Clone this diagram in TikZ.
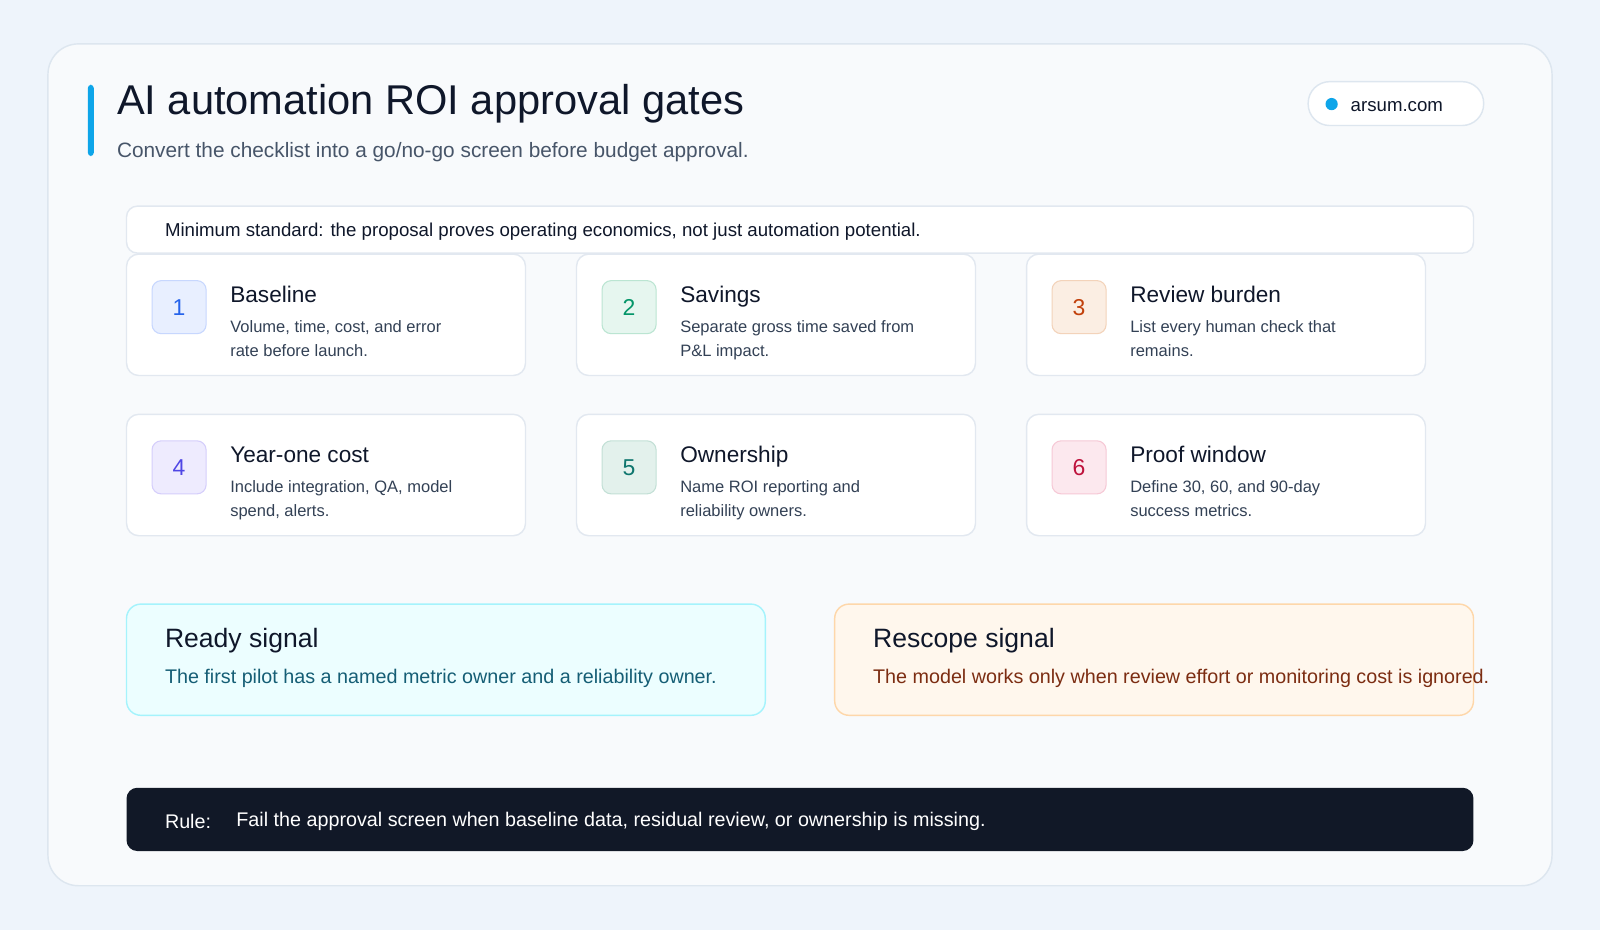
\documentclass[tikz,border=0pt]{standalone}
\usepackage{fontspec}
\setmainfont{Liberation Sans}
\usetikzlibrary{positioning}
\definecolor{pagebg}{HTML}{EEF4FB}
\definecolor{panelbg}{HTML}{F8FAFC}
\definecolor{panelline}{HTML}{DDE6EF}
\definecolor{cardline}{HTML}{E2E8F0}
\definecolor{ink}{HTML}{0F172A}
\definecolor{subink}{HTML}{475569}
\definecolor{bodyink}{HTML}{334155}
\definecolor{accent}{HTML}{0EA5E9}
\definecolor{rulebg}{HTML}{111827}
\definecolor{bfA}{HTML}{E8EFFF}\definecolor{bdA}{HTML}{C7D7FE}\definecolor{btA}{HTML}{2563EB}
\definecolor{bfB}{HTML}{E6F6EF}\definecolor{bdB}{HTML}{BBE5D2}\definecolor{btB}{HTML}{059669}
\definecolor{bfC}{HTML}{FBEEE3}\definecolor{bdC}{HTML}{F3D3BA}\definecolor{btC}{HTML}{C2410C}
\definecolor{bfD}{HTML}{EEEBFE}\definecolor{bdD}{HTML}{D5CEFB}\definecolor{btD}{HTML}{4F46E5}
\definecolor{bfE}{HTML}{E3F1EC}\definecolor{bdE}{HTML}{C3E0D6}\definecolor{btE}{HTML}{0F766E}
\definecolor{bfF}{HTML}{FCE8EE}\definecolor{bdF}{HTML}{F6C9D6}\definecolor{btF}{HTML}{BE123C}
\definecolor{readybg}{HTML}{ECFEFF}\definecolor{readyline}{HTML}{A5F3FC}\definecolor{readyink}{HTML}{155E75}
\definecolor{rescbg}{HTML}{FFF7ED}\definecolor{rescline}{HTML}{FED7AA}\definecolor{rescink}{HTML}{7C2D12}
\tikzset{
  card/.style={draw=cardline, fill=white, rounded corners=12pt*0.284},
  badge/.style={rounded corners=9pt*0.284, line width=0.3pt},
  cardtitle/.style={anchor=base west, inner sep=0, text=ink, font=\fontsize{6.3}{7}\selectfont},
  cardbody/.style={anchor=north west, inner sep=0, text=bodyink, align=left,
    font=\fontsize{4.6}{6.8}\selectfont},
}
\begin{document}
\begin{tikzpicture}[x=0.01cm, y=-0.01cm]
\useasboundingbox (0,0) rectangle (1568,911);
\fill[pagebg] (0,0) rectangle (1568,911);
% panel
\draw[panelline, fill=panelbg, rounded corners=8.5pt] (47,43) rectangle (1521,868);
\fill[accent, rounded corners=1pt] (86,83) rectangle (92,153);
\node[anchor=west, inner sep=0, text=ink, font=\fontsize{11.6}{13}\selectfont] (title) at (114,102) {AI automation ROI approval gates};
\node[anchor=west, inner sep=0, text=subink, font=\fontsize{5.8}{7}\selectfont] (subtitle) at (114,149) {Convert the checklist into a go/no-go screen before budget approval.};
% site pill
\draw[panelline, fill=white, rounded corners=6pt] (1282,80) rectangle (1454,123);
\fill[accent] (1305,102) circle (6);
\node[anchor=west, inner sep=0, text=ink, font=\fontsize{5.2}{6}\selectfont] (site) at (1323,104) {arsum.com};
% standard
\draw[card, rounded corners=3pt] (124,202) rectangle (1444,248);
\node[anchor=west, inner sep=0, text=ink, font=\fontsize{5.2}{6}\selectfont] (standard) at (161,227) {Minimum standard: the proposal proves operating economics, not just automation potential.};
% gate cards
\foreach \x/\y/\n/\ttl/\body/\k in {
  124/249/1/Baseline/{Volume, time, cost, and error\\rate before launch.}/A,
  565/249/2/Savings/{Separate gross time saved from\\P\&L impact.}/B,
  1006/249/3/Review burden/{List every human check that\\remains.}/C,
  124/406/4/Year-one cost/{Include integration, QA, model\\spend, alerts.}/D,
  565/406/5/Ownership/{Name ROI reporting and\\reliability owners.}/E,
  1006/406/6/Proof window/{Define 30, 60, and 90-day\\success metrics.}/F}{
  \draw[card] (\x,\y) rectangle ++(391,119);
  \draw[badge, draw=bd\k, fill=bf\k] (\x+25,\y+26) rectangle ++(53,52);
  \node[inner sep=0, text=bt\k, font=\fontsize{6.4}{7}\selectfont] (badge\n) at (\x+51.5,\y+52) {\n};
  \node[cardtitle] (gate\n) at (\x+101,\y+47) {\ttl};
  \node[cardbody] (gatetext\n) at (\x+101,\y+64) {\body};
}
% signals
\draw[readyline, fill=readybg, rounded corners=4pt] (124,592) rectangle (750,701);
\node[anchor=west, inner sep=0, text=ink, font=\fontsize{7.4}{8}\selectfont] (ready) at (161,628) {Ready signal};
\node[anchor=west, inner sep=0, text=readyink, font=\fontsize{5.5}{6}\selectfont] (readytext) at (161,665) {The first pilot has a named metric owner and a reliability owner.};
\draw[rescline, fill=rescbg, rounded corners=4pt] (818,592) rectangle (1444,701);
\node[anchor=west, inner sep=0, text=ink, font=\fontsize{7.4}{8}\selectfont] (rescope) at (855,628) {Rescope signal};
\node[anchor=west, inner sep=0, text=rescink, font=\fontsize{5.5}{6}\selectfont] (rescopetext) at (855,665) {The model works only when review effort or monitoring cost is ignored.};
% rule
\fill[rulebg, rounded corners=3pt] (124,772) rectangle (1444,834);
\node[anchor=west, inner sep=0, text=white, font=\fontsize{5.5}{6}\selectfont] (rule) at (161,805) {Rule:};
\node[anchor=west, inner sep=0, text=white, font=\fontsize{5.5}{6}\selectfont] (ruletext) at (231,805) {Fail the approval screen when baseline data, residual review, or ownership is missing.};
\end{tikzpicture}
\end{document}
